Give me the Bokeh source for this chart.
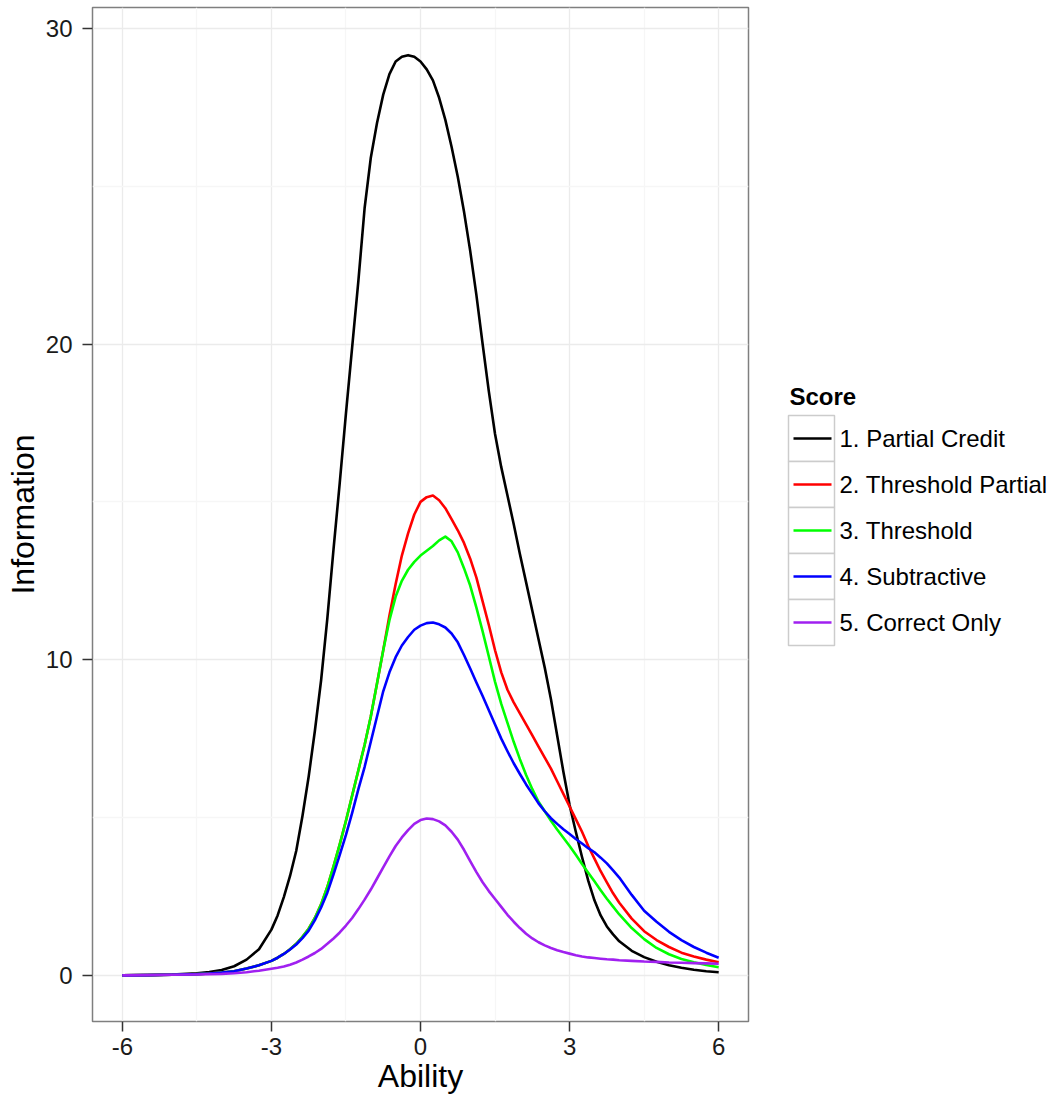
from bokeh.plotting import figure
from bokeh.models import Range1d, FixedTicker, ColumnDataSource, CustomJSTickFormatter
from bokeh.layouts import row
from bokeh.embed import file_html
from bokeh.resources import INLINE
from bokeh.core.properties import value

# ---------------- data ----------------
ability = [-6, -5.5, -5, -4.5, -4.25, -4, -3.75, -3.5, -3.25,
           -3, -2.875, -2.75, -2.625, -2.5, -2.375, -2.25, -2.125,
           -2, -1.875, -1.75, -1.625, -1.5, -1.375, -1.25, -1.125,
           -1, -0.875, -0.75, -0.625, -0.5, -0.375, -0.25, -0.125,
           0, 0.125, 0.25, 0.375, 0.5, 0.625, 0.75, 0.875,
           1, 1.125, 1.25, 1.375, 1.5, 1.625, 1.75, 1.875,
           2, 2.125, 2.25, 2.375, 2.5, 2.625, 2.75, 2.875,
           3, 3.125, 3.25, 3.375, 3.5, 3.625, 3.75, 3.875,
           4, 4.25, 4.5, 4.75, 5, 5.25, 5.5, 5.75, 6]

partial_credit = [0.00, 0.01, 0.03, 0.07, 0.11, 0.17, 0.29, 0.50, 0.83,
                  1.45, 1.90, 2.48, 3.15, 3.95, 5.05, 6.30, 7.75,
                  9.35, 11.3, 13.5, 15.6, 17.8, 19.9, 22.0, 24.3,
                  25.9, 27.0, 27.9, 28.55, 28.95, 29.1, 29.15, 29.1,
                  28.95, 28.7, 28.35, 27.8, 27.1, 26.25, 25.3, 24.2,
                  22.95, 21.55, 20.0, 18.5, 17.15, 16.1, 15.2, 14.3,
                  13.35, 12.45, 11.55, 10.65, 9.75, 8.75, 7.6, 6.45,
                  5.4, 4.55, 3.75, 3.0, 2.38, 1.9, 1.55, 1.3,
                  1.08, 0.78, 0.58, 0.43, 0.32, 0.24, 0.18, 0.13, 0.10]

threshold_partial = [0.00, 0.01, 0.02, 0.04, 0.06, 0.09, 0.13, 0.22, 0.32,
                     0.46, 0.56, 0.68, 0.83, 1.00, 1.22, 1.48, 1.82,
                     2.25, 2.80, 3.45, 4.15, 4.90, 5.70, 6.50, 7.30,
                     8.20, 9.25, 10.3, 11.4, 12.4, 13.3, 14.0, 14.6,
                     15.0, 15.15, 15.2, 15.05, 14.8, 14.45, 14.1, 13.7,
                     13.2, 12.6, 11.85, 11.1, 10.3, 9.6, 9.05, 8.65,
                     8.3, 7.95, 7.6, 7.25, 6.9, 6.55, 6.15, 5.75,
                     5.35, 4.95, 4.55, 4.1, 3.7, 3.3, 2.95, 2.6,
                     2.3, 1.8, 1.4, 1.12, 0.90, 0.72, 0.60, 0.50, 0.42]

threshold = [0.00, 0.01, 0.02, 0.04, 0.06, 0.09, 0.13, 0.22, 0.32,
             0.46, 0.56, 0.68, 0.83, 1.00, 1.22, 1.48, 1.82,
             2.25, 2.80, 3.45, 4.15, 4.90, 5.70, 6.50, 7.30,
             8.20, 9.25, 10.3, 11.25, 12.0, 12.5, 12.85, 13.1,
             13.3, 13.45, 13.6, 13.78, 13.9, 13.75, 13.4, 12.9,
             12.35, 11.65, 10.9, 10.1, 9.3, 8.6, 8.0, 7.4,
             6.85, 6.35, 5.9, 5.5, 5.2, 4.9, 4.62, 4.36,
             4.1, 3.82, 3.53, 3.25, 2.98, 2.7, 2.43, 2.18,
             1.93, 1.5, 1.15, 0.87, 0.67, 0.52, 0.42, 0.33, 0.26]

subtractive = [0.00, 0.01, 0.02, 0.04, 0.06, 0.09, 0.13, 0.22, 0.32,
               0.46, 0.56, 0.68, 0.82, 0.98, 1.18, 1.42, 1.75,
               2.15, 2.62, 3.20, 3.82, 4.45, 5.15, 5.90, 6.60,
               7.40, 8.20, 9.0, 9.6, 10.08, 10.45, 10.72, 10.95,
               11.08, 11.16, 11.18, 11.12, 11.02, 10.83, 10.55, 10.15,
               9.72, 9.28, 8.85, 8.4, 7.95, 7.5, 7.1, 6.72,
               6.38, 6.05, 5.75, 5.45, 5.2, 4.98, 4.8, 4.63,
               4.48, 4.32, 4.18, 4.03, 3.9, 3.73, 3.55, 3.33,
               3.1, 2.55, 2.05, 1.7, 1.38, 1.12, 0.90, 0.72, 0.56]

correct_only = [0.00, 0.01, 0.02, 0.03, 0.04, 0.05, 0.07, 0.10, 0.15,
                0.21, 0.24, 0.28, 0.34, 0.41, 0.50, 0.60, 0.71,
                0.84, 1.00, 1.17, 1.36, 1.58, 1.82, 2.10, 2.40,
                2.72, 3.07, 3.42, 3.77, 4.10, 4.37, 4.60, 4.80,
                4.92, 4.97, 4.95, 4.88, 4.75, 4.55, 4.30, 3.98,
                3.62, 3.27, 2.95, 2.67, 2.42, 2.17, 1.92, 1.70,
                1.50, 1.32, 1.17, 1.05, 0.95, 0.87, 0.80, 0.74,
                0.69, 0.64, 0.60, 0.57, 0.55, 0.53, 0.51, 0.50,
                0.48, 0.46, 0.44, 0.43, 0.41, 0.40, 0.39, 0.38, 0.37]

series_names = ["1. Partial Credit", "2. Threshold Partial", "3. Threshold",
                "4. Subtractive", "5. Correct Only"]
series_values = [partial_credit, threshold_partial, threshold, subtractive, correct_only]
series_colors = ["#000000", "#FF0000", "#00FF00", "#0000FF", "#A020F0"]

x_ticks = [-6, -3, 0, 3, 6]
x_minor = [-4.5, -1.5, 1.5, 4.5]
y_ticks = [0, 10, 20, 30]
y_minor = [5, 15, 25]

FONT = "Liberation Sans"
TOP, BOTTOM = 7, 80   # figure borders (px) around the plotting frame
H = 1101

# ---------------- main panel ----------------
p = figure(width=768, height=H, output_backend="svg", toolbar_location=None,
           x_range=Range1d(-6.6, 6.6), y_range=Range1d(-1.46, 30.66),
           min_border_left=92, min_border_right=20,
           min_border_top=TOP, min_border_bottom=BOTTOM,
           x_axis_label="Ability", y_axis_label="Information")
p.background_fill_color = "white"
p.border_fill_color = "white"
p.outline_line_color = "#7f7f7f"
p.outline_line_width = 1.5

p.xaxis.ticker = FixedTicker(ticks=x_ticks, minor_ticks=x_minor)
p.yaxis.ticker = FixedTicker(ticks=y_ticks, minor_ticks=y_minor)
p.xaxis.formatter = CustomJSTickFormatter(code="return tick.toFixed(0);")
p.yaxis.formatter = CustomJSTickFormatter(code="return tick.toFixed(0);")

for g in (p.xgrid, p.ygrid):
    g.grid_line_color = "#ebebeb"
    g.grid_line_width = 1.3
    g.minor_grid_line_color = "#f6f6f6"
    g.minor_grid_line_width = 1.3

for ax in (p.xaxis, p.yaxis):
    ax.axis_line_color = None
    ax.major_tick_line_color = "#333333"
    ax.major_tick_line_width = 1.5
    ax.major_tick_out = 10
    ax.major_tick_in = 0
    ax.minor_tick_line_color = None
    ax.major_label_text_font = FONT
    ax.major_label_text_font_size = "24px"
    ax.major_label_text_color = "#1a1a1a"
    ax.axis_label_text_font = FONT
    ax.axis_label_text_font_size = "32px"
    ax.axis_label_text_font_style = "normal"
    ax.axis_label_text_color = "#000000"

p.xaxis.major_label_standoff = 6
p.xaxis.axis_label_standoff = 0
p.yaxis.major_label_standoff = 10
p.yaxis.axis_label_standoff = 2

src = ColumnDataSource(dict(ability=ability, **{f"s{i}": v for i, v in enumerate(series_values)}))
for i, col in enumerate(series_colors):
    p.line(x="ability", y=f"s{i}", source=src, line_color=col, line_width=2.6,
           line_join="round")

# ---------------- legend panel (a small figure in pixel coordinates) ----------------
leg = figure(width=294, height=H, output_backend="svg", toolbar_location=None,
             x_range=Range1d(0, 294), y_range=Range1d(H - BOTTOM, TOP),
             min_border_left=0, min_border_right=0,
             min_border_top=TOP, min_border_bottom=BOTTOM,
             x_axis_location=None, y_axis_location=None, outline_line_color=None)
leg.grid.visible = False
leg.background_fill_color = "white"
leg.border_fill_color = "white"

key_h = 46
key_top0 = 415
tops = [key_top0 + key_h * i for i in range(len(series_names))]
bottoms = [t + key_h for t in tops]
mids = [t + key_h / 2 for t in tops]

leg.quad(left=20, right=66, top=tops, bottom=bottoms, fill_color="white",
         line_color="#cccccc", line_width=1.5)
leg.segment(x0=25, x1=63, y0=mids, y1=mids, line_color=series_colors, line_width=2.6)
leg.text(x=71, y=mids, text=series_names, text_font=value(FONT), text_font_size="24px",
         text_baseline="middle", text_align="left", text_color="#000000")
leg.text(x=21, y=[396], text=["Score"], text_font=value(FONT), text_font_size="24px",
         text_font_style="bold", text_baseline="middle", text_align="left",
         text_color="#000000")

layout = row(p, leg)
open("out.html", "w").write(file_html(layout, INLINE))
